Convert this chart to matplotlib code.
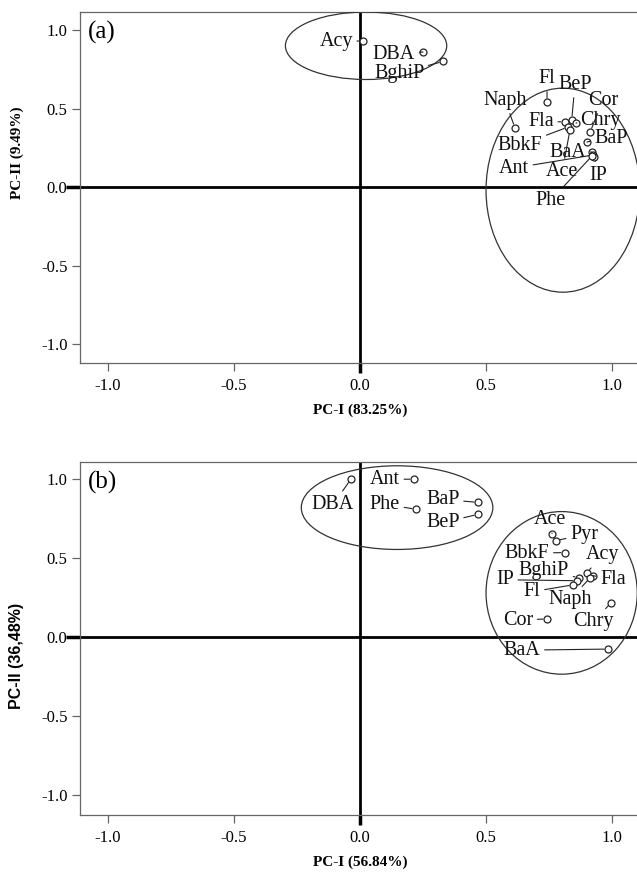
import matplotlib
matplotlib.use("Agg")
import matplotlib.pyplot as plt
from matplotlib.patches import Ellipse

# ---------------- data ----------------
# Panel (a)
a_names = ["Acy", "DBA", "BghiP", "Fl", "Naph", "Fla", "BeP", "Chry", "BbkF", "Ace",
           "Cor", "BaP", "BaA", "Ant", "IP", "Phe"]
a_pc1 = [0.012, 0.25, 0.33, 0.742, 0.615, 0.813, 0.84, 0.857, 0.825, 0.833,
         0.913, 0.90, 0.92, 0.925, 0.93, 0.92]
a_pc2 = [0.93, 0.86, 0.80, 0.54, 0.376, 0.414, 0.427, 0.408, 0.382, 0.363,
         0.35, 0.287, 0.223, 0.204, 0.19, 0.197]
a_xlabel = "PC-I (83.25%)"
a_ylabel = "PC-II (9.49%)"

# Panel (b)
b_names = ["DBA", "Ant", "Phe", "BaP", "BeP", "Ace", "Pyr", "BbkF", "Acy", "Fla",
           "Naph", "BghiP", "IP", "Fl", "Chry", "Cor", "BaA"]
b_pc1 = [-0.036, 0.214, 0.222, 0.468, 0.468, 0.762, 0.778, 0.813, 0.90, 0.925,
         0.913, 0.869, 0.861, 0.845, 0.996, 0.742, 0.984]
b_pc2 = [1.0, 1.0, 0.81, 0.853, 0.777, 0.656, 0.611, 0.535, 0.408, 0.389,
         0.376, 0.376, 0.357, 0.331, 0.217, 0.115, -0.076]
b_xlabel = "PC-I (56.84%)"
b_ylabel = "PC-II (36,48%)"

ticks = [-1.0, -0.5, 0.0, 0.5, 1.0]
tick_labels = ["-1.0", "-0.5", "0.0", "0.5", "1.0"]

# ---------------- layout / styling (positions of labels) ----------------
a_text_pos = {
    "Acy": (-0.095, 0.93), "DBA": (0.135, 0.845), "BghiP": (0.155, 0.725),
    "Fl": (0.742, 0.694), "Naph": (0.575, 0.554), "Fla": (0.718, 0.42),
    "BeP": (0.853, 0.656), "Cor": (0.964, 0.554), "Chry": (0.952, 0.427),
    "BbkF": (0.635, 0.267), "BaP": (0.996, 0.312), "BaA": (0.825, 0.223),
    "Ant": (0.611, 0.121), "Ace": (0.802, 0.096), "IP": (0.944, 0.076),
    "Phe": (0.758, -0.083),
}
b_text_pos = {
    "DBA": (-0.107, 0.84), "Ant": (0.099, 1.0), "Phe": (0.099, 0.84),
    "BaP": (0.329, 0.873), "BeP": (0.329, 0.726), "Ace": (0.754, 0.745),
    "Pyr": (0.889, 0.65), "BbkF": (0.663, 0.532), "Acy": (0.964, 0.522),
    "BghiP": (0.730, 0.422), "IP": (0.575, 0.363), "Fla": (1.004, 0.363),
    "Fl": (0.683, 0.287), "Naph": (0.833, 0.236), "Chry": (0.925, 0.096),
    "Cor": (0.627, 0.108), "BaA": (0.643, -0.083),
}
a_ellipses = [((0.024, 0.90), 0.64, 0.43), ((0.805, -0.02), 0.61, 1.30)]
b_ellipses = [((0.147, 0.82), 0.76, 0.53), ((0.80, 0.28), 0.60, 1.03)]

SERIF = "Liberation Serif"
SANS = "Liberation Sans"
SPINE = "#666666"

W, H = 637, 874
fig = plt.figure(figsize=(W / 100, H / 100), dpi=100)

XL = (-1.111, 1.099)


def make_panel(rect, ylim, names, xs, ys, tpos, ellipses, tag, xlabel, ylabel,
               ylabel_font, ylabel_size, ylabel_y):
    ax = fig.add_axes(rect)
    ax.set_xlim(*XL)
    ax.set_ylim(*ylim)
    for s in ["left", "bottom", "top"]:
        ax.spines[s].set_color(SPINE)
        ax.spines[s].set_linewidth(0.9)
    ax.spines["right"].set_visible(False)
    ax.set_xticks(ticks)
    ax.set_yticks(ticks)
    ax.set_xticklabels(tick_labels, fontfamily=SERIF, fontsize=12)
    ax.set_yticklabels(tick_labels, fontfamily=SERIF, fontsize=12)
    ax.tick_params(axis="x", direction="out", length=6, width=0.9, color=SPINE, pad=5)
    ax.tick_params(axis="y", direction="out", length=6, width=0.9, color=SPINE, pad=3)
    # thick zero ticks
    for t, v in zip(ax.xaxis.get_major_ticks(), ticks):
        if v == 0.0:
            t.tick1line.set_markeredgewidth(2.5)
            t.tick1line.set_markeredgecolor("black")
            t.tick1line.set_markersize(7)
    for t, v in zip(ax.yaxis.get_major_ticks(), ticks):
        if v == 0.0:
            t.tick1line.set_markeredgewidth(2.5)
            t.tick1line.set_markeredgecolor("black")
            t.tick1line.set_markersize(10)
    ax.axhline(0, color="black", lw=2.0, zorder=2)
    ax.axvline(0, color="black", lw=2.0, zorder=2)

    for (c, w, h) in ellipses:
        ax.add_patch(Ellipse(c, w, h, fill=False, edgecolor="#333333", lw=0.9, zorder=3))

    ax.plot(xs, ys, linestyle="none", marker="o", markersize=5, markerfacecolor="white",
            markeredgecolor="#222222", markeredgewidth=0.9, zorder=5)
    for n, x, y in zip(names, xs, ys):
        tx, ty = tpos[n]
        ax.annotate(n, xy=(x, y), xytext=(tx, ty), textcoords="data",
                    ha="center", va="center", fontfamily=SERIF, fontsize=14.5,
                    color="#111111", zorder=6,
                    arrowprops=dict(arrowstyle="-", lw=0.8, color="#222222",
                                    shrinkA=1, shrinkB=3))

    ax.text(0.015, 0.975, tag, transform=ax.transAxes, ha="left", va="top",
            fontfamily=SERIF, fontsize=18)

    # axis labels
    x0frac = (0 - XL[0]) / (XL[1] - XL[0])
    ax.set_xlabel(xlabel, fontfamily=SERIF, fontweight="bold", fontsize=11)
    ax.xaxis.set_label_coords(x0frac, -0.115)
    ax.set_ylabel(ylabel, fontfamily=ylabel_font, fontweight="bold", fontsize=ylabel_size)
    ax.yaxis.set_label_coords(-0.1, ylabel_y)
    return ax


ax1 = make_panel([80 / W, (H - 363) / H, (W - 80) / W, 351 / H], (-1.121, 1.115),
                 a_names, a_pc1, a_pc2, a_text_pos, a_ellipses, "(a)",
                 a_xlabel, a_ylabel, SERIF, 11, 0.6)
ax2 = make_panel([80 / W, (H - 815) / H, (W - 80) / W, 353 / H], (-1.127, 1.109),
                 b_names, b_pc1, b_pc2, b_text_pos, b_ellipses, "(b)",
                 b_xlabel, b_ylabel, SANS, 11.5, 0.45)

fig.savefig("out.png", dpi=100)
